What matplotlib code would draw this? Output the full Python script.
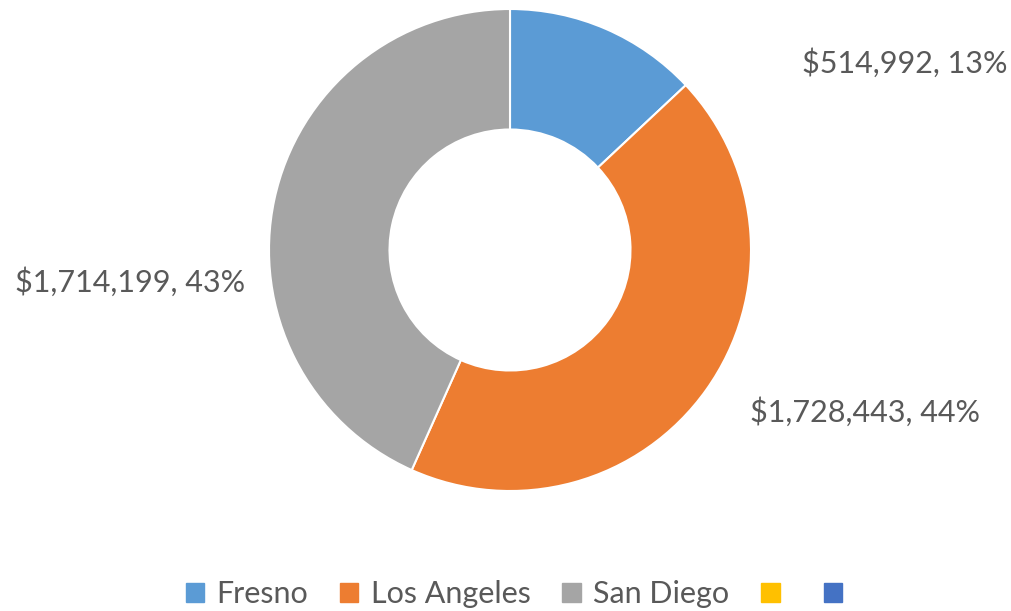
import matplotlib
matplotlib.use("Agg")
import matplotlib.pyplot as plt
import matplotlib.patches as mpatches

plt.rcParams['font.family'] = ['Lato', 'DejaVu Sans']

# Data
cities = ['Fresno', 'Los Angeles', 'San Diego', '', '']
amounts = [514992, 1728443, 1714199, 0, 0]
colors = ['#5B9BD5', '#ED7D31', '#A5A5A5', '#FFC000', '#4472C4']
text_color = '#595959'

W, H = 1012, 611
fig = plt.figure(figsize=(W / 100, H / 100), dpi=100)
fig.patch.set_facecolor('white')

# Donut axes: centre (510, 250) px, radius 241 px
cx, cy, r = 510, 250, 241
ax = fig.add_axes([(cx - r) / W, (H - cy - r) / H, 2 * r / W, 2 * r / H])
ax.pie(amounts[:3], colors=colors[:3], startangle=90, counterclock=False,
       radius=1.0, wedgeprops=dict(width=0.5, edgecolor='white', linewidth=1.5))
ax.set_xlim(-1, 1)
ax.set_ylim(-1, 1)
ax.set_aspect('equal')
ax.axis('off')

# Data labels
total = sum(amounts)
label_pos = [(905, 63), (865, 412), (130, 282)]
for amt, (px, py) in zip(amounts[:3], label_pos):
    fig.text(px / W, 1 - py / H, f'${amt:,}, {amt / total * 100:.0f}%',
             ha='center', va='center', fontsize=22, color=text_color)

# Legend
handles = [mpatches.Patch(color=c, label=n) for c, n in zip(colors, cities)]
fig.legend(handles=handles, loc='center', bbox_to_anchor=(0.5 + 14 / W, 1 - 594 / H),
           ncol=5, frameon=False, fontsize=22, labelcolor=text_color,
           handlelength=0.6, handleheight=0.6, handletextpad=0.4, columnspacing=1.05)

fig.savefig('out.png', dpi=100, facecolor='white')
